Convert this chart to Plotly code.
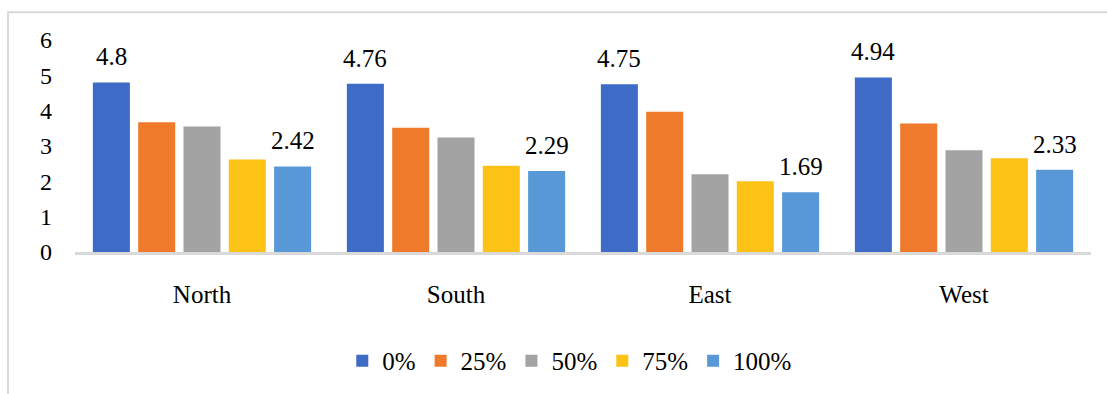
import plotly.graph_objects as go

# Regions on the x axis
regions = ["North", "South", "East", "West"]

# Series names and values per region
series_names = ["0%", "25%", "50%", "75%", "100%"]
values_0 = [4.80, 4.76, 4.75, 4.94]
values_25 = [3.67, 3.52, 3.97, 3.64]
values_50 = [3.55, 3.24, 2.20, 2.88]
values_75 = [2.62, 2.44, 2.00, 2.65]
values_100 = [2.42, 2.29, 1.69, 2.33]

y_ticks = [0, 1, 2, 3, 4, 5, 6]

series_values = [values_0, values_25, values_50, values_75, values_100]
colors = ["#3d6bc6", "#ef7a2b", "#a3a3a3", "#fcc215", "#5898d6"]

FONT = "Liberation Serif"

W, H = 1107, 394
M_L, M_R, M_T, M_B = 75, 16, 40, 141
BARGAP, BARGROUPGAP = 0.108, 0.183

fig = go.Figure()
for name, vals, col in zip(series_names, series_values, colors):
    fig.add_trace(go.Bar(
        name=name, x=regions, y=vals,
        marker=dict(color=col, line=dict(width=0)),
        hoverinfo="x+y+name",
    ))

# Value labels above the first and last bar of each group
plot_w = W - M_L - M_R
cat_w = plot_w / len(regions)
pitch = cat_w * (1 - BARGAP) / len(series_names)
annotations = []
for idx in (0, len(series_names) - 1):
    shift = (idx - (len(series_names) - 1) / 2) * pitch
    for reg, v in zip(regions, series_values[idx]):
        annotations.append(dict(
            x=reg, y=v, xref="x", yref="y", text=f"{v:g}",
            showarrow=False, xanchor="center", yanchor="bottom",
            xshift=shift, yshift=10,
            font=dict(family=FONT, size=25, color="#000000"),
        ))

plot_h = H - M_T - M_B
# Light grey frame around the whole chart
frame = dict(
    type="rect", xref="paper", yref="paper",
    x0=(8 - M_L) / plot_w, x1=(W + 10 - M_L) / plot_w,
    y0=-(H + 10 - (H - M_B)) / plot_h, y1=((H - M_B) - 12) / plot_h,
    line=dict(color="#d9d9d9", width=2), fillcolor="rgba(0,0,0,0)",
    layer="below",
)

fig.update_layout(
    width=W, height=H,
    margin=dict(l=M_L, r=M_R, t=M_T, b=M_B),
    barmode="group", bargap=BARGAP, bargroupgap=BARGROUPGAP,
    plot_bgcolor="white", paper_bgcolor="white",
    font=dict(family=FONT, size=25, color="#000000"),
    showlegend=True,
    legend=dict(
        orientation="h", x=0.487, xanchor="center", y=-0.507, yanchor="middle",
        font=dict(family=FONT, size=25, color="#000000"),
        bgcolor="rgba(0,0,0,0)", traceorder="normal", itemwidth=30,
    ),
    xaxis=dict(
        showline=True, linecolor="#d9d9d9", linewidth=2.5,
        showgrid=False, ticks="", ticklabelstandoff=18,
        tickfont=dict(family=FONT, size=25, color="#000000"),
        fixedrange=True,
    ),
    yaxis=dict(
        range=[0, 6], tickvals=y_ticks, showline=False, showgrid=False,
        zeroline=False, ticks="", ticklabelstandoff=22,
        tickfont=dict(family=FONT, size=24, color="#000000"),
        fixedrange=True,
    ),
    annotations=annotations,
    shapes=[frame],
)

fig.write_html("out.html")
